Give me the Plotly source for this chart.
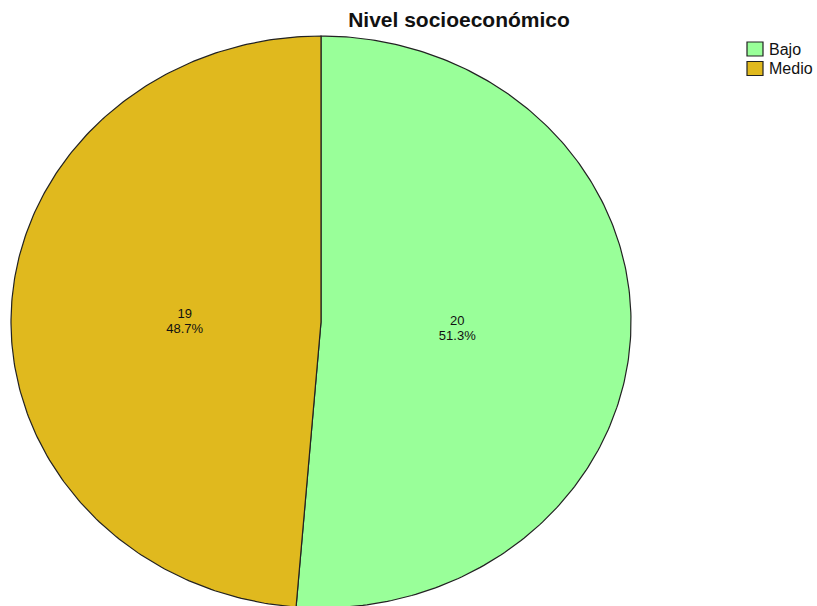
import numpy as np
import plotly.graph_objects as go

# Data
categories = ["Bajo", "Medio"]
counts = [20, 19]
colors = ["#99FF99", "#E0B91E"]

title = "Nivel socioeconómico"

# Elliptical pie geometry (in pixel-like data units)
W, H = 817, 606
cx, cy = 321, 322
rx, ry = 310, 286
edge = "#222222"
font_family = "Liberation Sans, Arial"

total = sum(counts)
fig = go.Figure()

start = 0.0  # degrees clockwise from 12 o'clock
for cat, n, col in zip(categories, counts, colors):
    sweep = 360.0 * n / total
    t = np.radians(np.linspace(start, start + sweep, 240))
    xs = np.concatenate([[cx], cx + rx * np.sin(t), [cx]])
    ys = np.concatenate([[cy], cy - ry * np.cos(t), [cy]])
    fig.add_trace(go.Scatter(
        x=xs, y=ys, mode="lines", fill="toself", fillcolor=col,
        line=dict(color=edge, width=1.2), hoverinfo="skip", showlegend=False,
    ))
    # slice label: count above percentage, tightly stacked
    mid = np.radians(start + sweep / 2)
    lx = cx + 0.44 * rx * np.sin(mid)
    ly = cy + 4 - 0.3 * ry * np.cos(mid)
    pct = 100.0 * n / total
    fig.add_trace(go.Scatter(
        x=[lx, lx], y=[ly - 7.5, ly + 7.5], mode="text",
        text=[f"{n}", f"{pct:.1f}%"],
        textfont=dict(family=font_family, size=13, color="#111111"),
        hoverinfo="skip", showlegend=False,
    ))
    start += sweep

# Legend: swatch boxes with labels, top right
for i, (cat, col) in enumerate(zip(categories, colors)):
    y0 = 42 + i * 19.5
    fig.add_shape(type="rect", xref="paper", yref="paper",
                  x0=747 / W, x1=763 / W, y0=1 - y0 / H, y1=1 - (y0 + 14) / H,
                  fillcolor=col, line=dict(color=edge, width=1.2))
    fig.add_annotation(xref="paper", yref="paper", x=767 / W, y=1 - (y0 + 7) / H,
                       xanchor="left", yanchor="middle", showarrow=False,
                       text=cat, font=dict(family=font_family, size=16, color="#111111"))

fig.update_layout(
    width=W, height=H,
    margin=dict(l=0, r=0, t=0, b=0),
    paper_bgcolor="white", plot_bgcolor="white",
    title=dict(text=f"<b>{title}</b>", x=459 / W, xanchor="center",
               y=1 - 20 / H, yanchor="middle",
               font=dict(family=font_family, size=21, color="#111111")),
    xaxis=dict(range=[0, W], visible=False, fixedrange=True),
    yaxis=dict(range=[H, 0], visible=False, fixedrange=True),
    showlegend=False,
)

fig.write_html("out.html")
